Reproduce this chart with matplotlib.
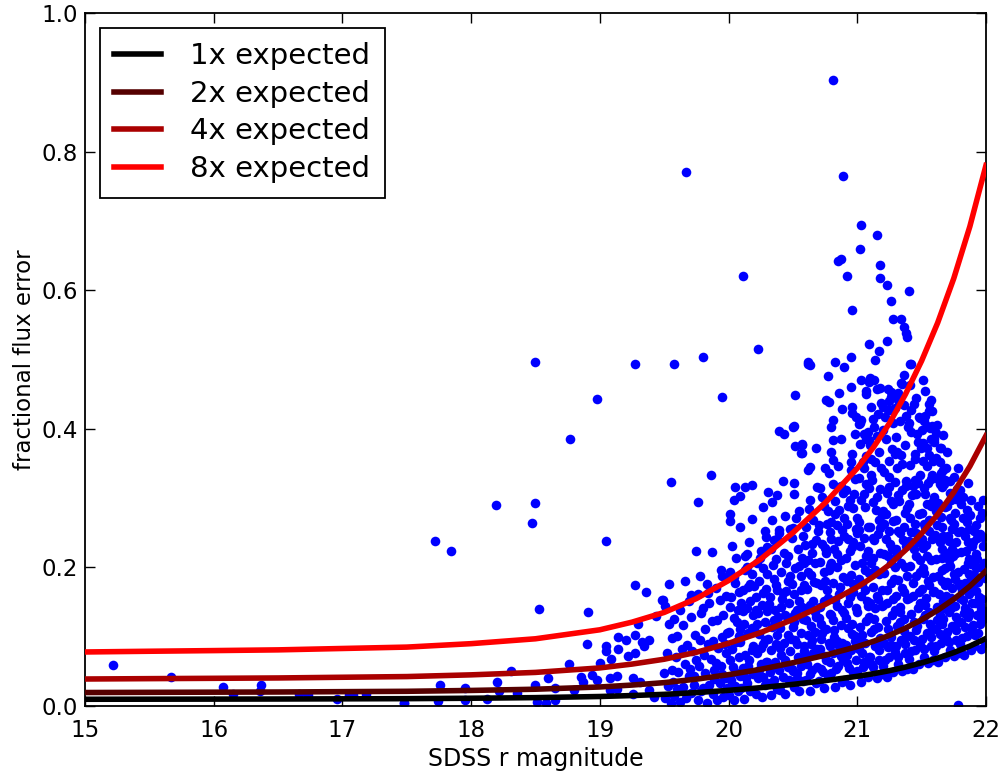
import matplotlib
matplotlib.use("Agg")
import matplotlib.pyplot as plt
import numpy as np

# expected fractional error curve (1x)
curve_mag = [15.0, 15.5, 16.0, 16.5, 17.0, 17.5, 18.0, 18.5, 19.0, 19.25, 19.5, 19.75,
             20.0, 20.25, 20.5, 20.75, 21.0, 21.125, 21.25, 21.375, 21.5, 21.625,
             21.75, 21.875, 22.0]
expected_1x = [.00975, .00988, .0100, .01013, .01038, .01063, .01125, .01213, .01375,
               .01513, .01688, .01938, .02263, .0265, .03125, .03663, .04288, .04663,
               .051, .05625, .06225, .06913, .07713, .0865, .0975]
multipliers = [1, 2, 4, 8]
line_colors = ['#000000', '#550000', '#aa0000', '#ff0000']

# bright / isolated stars (mag, frac. error)
bright_pts = [
    (15.22, .059), (15.67, .042), (16.07, .027), (16.15, .018), (16.37, .031), (16.36, .021),
    (16.66, .018), (16.73, .016), (16.96, .010), (17.05, .016), (17.08, .016), (17.18, .018),
    (17.48, .004), (17.48, .005), (17.74, .007), (17.95, .009), (18.12, .010), (18.22, .021),
    (18.36, .019), (18.51, .006), (18.58, .004), (18.65, .009), (18.80, .023), (19.08, .023),
    (19.13, .024), (19.26, .018), (19.38, .023), (19.42, .013), (17.76, .031), (18.20, .035),
    (17.95, .026), (18.50, .030), (18.60, .041), (18.65, .026), (18.85, .042), (18.87, .034),
    (18.94, .045), (18.98, .037), (19.08, .040), (19.13, .043), (19.26, .040), (19.31, .035),
    (18.31, .051), (18.76, .060), (19.00, .062), (18.90, .090), (19.05, .087), (19.05, .080),
    (19.14, .099), (19.20, .095), (19.14, .083), (19.09, .068), (19.27, .103), (19.33, .093),
    (19.38, .095), (19.34, .086), (19.27, .076), (19.22, .072), (19.30, .118), (19.44, .130),
    (19.48, .153), (18.53, .140), (18.91, .135), (19.27, .174), (19.36, .164),
]

outlier_pts = [
    (18.50, .497), (19.27, .493), (18.98, .443), (18.77, .386), (18.19, .290), (18.50, .293),
    (18.47, .264), (17.72, .238), (17.84, .224), (19.05, .238), (19.67, .771), (20.11, .620),
    (20.23, .515), (19.58, .494), (19.80, .504), (19.95, .446), (20.52, .449), (20.62, .494),
    (20.50, .403), (20.39, .397), (20.43, .392), (20.52, .375), (20.57, .378), (20.51, .404),
    (20.56, .365), (20.62, .341), (19.55, .323), (19.86, .334), (19.76, .295), (20.05, .316),
    (20.13, .316), (20.18, .319), (20.04, .297), (20.09, .303), (20.01, .277), (20.01, .267),
    (20.09, .259), (20.18, .270), (20.27, .287), (20.31, .309), (20.34, .295), (20.38, .304),
    (20.42, .324), (20.51, .322), (20.51, .306), (20.29, .244), (20.30, .230), (20.35, .240),
    (20.39, .254), (19.75, .223), (19.87, .222), (20.14, .219), (19.78, .187), (19.54, .176),
    (19.94, .197), (19.95, .187), (20.01, .187), (20.13, .196), (19.71, .160), (19.49, .153),
    (19.84, .163), (21.78, .001),
]

upper_pts = [
    (20.81, .903), (20.89, .765), (21.03, .694), (21.15, .679), (21.02, .659), (20.85, .642),
    (20.87, .645), (21.18, .637), (20.92, .620), (21.18, .618), (21.23, .607), (21.40, .599),
    (21.26, .585), (20.96, .572), (21.28, .559), (21.34, .558), (21.36, .547), (21.38, .538),
    (21.39, .533), (21.09, .523), (21.23, .527), (21.17, .512), (21.14, .499), (20.95, .503),
    (20.62, .497), (20.63, .492), (20.83, .497), (20.90, .489), (21.41, .494), (20.77, .476),
    (21.03, .471), (21.10, .473), (21.13, .470), (21.09, .467), (20.95, .461), (21.18, .459),
    (21.24, .457), (21.26, .453), (21.07, .455), (21.07, .450), (21.15, .457), (20.86, .452),
    (21.36, .478), (21.35, .465), (20.76, .441), (20.78, .439), (21.25, .440), (21.11, .432),
    (21.20, .431), (21.29, .430), (20.88, .428), (20.96, .432), (20.96, .423), (20.99, .417),
    (21.03, .413), (21.01, .407), (20.81, .413), (20.80, .403), (20.98, .393), (21.05, .393),
    (21.07, .385), (20.87, .386), (20.81, .384), (20.57, .377), (20.57, .365), (20.68, .372),
    (20.80, .366), (20.81, .355), (20.96, .364), (20.63, .345), (20.75, .343),
    (21.51, .470), (21.53, .454), (21.57, .442), (21.56, .426), (21.49, .415), (21.54, .404),
    (21.58, .404), (21.64, .373), (21.51, .379), (21.56, .362), (21.59, .353), (21.67, .341),
    (21.68, .326), (21.64, .321), (21.72, .307), (21.42, .494), (21.41, .463), (21.34, .466),
]

# main cloud of faint stars, roughly column by column
cloud_195_205 = [
    (19.55, .004), (19.51, .011), (19.58, .014), (19.53, .029), (19.57, .034), (19.50, .047),
    (19.56, .052), (19.59, .071), (19.52, .076), (19.56, .098), (19.54, .119), (19.58, .126),
    (19.51, .145),
    (19.62, .006), (19.67, .012), (19.60, .024), (19.65, .027), (19.69, .043), (19.61, .049),
    (19.66, .061), (19.64, .083), (19.68, .088), (19.60, .101), (19.65, .117), (19.62, .139),
    (19.69, .151), (19.66, .181),
    (19.76, .008), (19.71, .019), (19.79, .021), (19.73, .031), (19.70, .054), (19.77, .058),
    (19.75, .066), (19.72, .079), (19.78, .096), (19.74, .103), (19.71, .129), (19.79, .134),
    (19.76, .161), (19.73, .043),
    (19.83, .005), (19.88, .017), (19.80, .026), (19.85, .031), (19.82, .047), (19.89, .052),
    (19.86, .068), (19.81, .073), (19.84, .089), (19.88, .094), (19.82, .111), (19.87, .122),
    (19.80, .141), (19.85, .149), (19.83, .176), (19.89, .039),
    (19.91, .009), (19.96, .013), (19.99, .026), (19.93, .033), (19.97, .041), (19.90, .062),
    (19.94, .058), (19.98, .077), (19.92, .084), (19.95, .099), (19.99, .106), (19.91, .124),
    (19.96, .131), (19.93, .153), (19.98, .159), (19.90, .171), (19.95, .046), (19.97, .089),
    (20.04, .008), (20.00, .016), (20.07, .021), (20.02, .038), (20.09, .043), (20.05, .049),
    (20.01, .066), (20.08, .071), (20.03, .082), (20.06, .093), (20.00, .107), (20.09, .111),
    (20.04, .127), (20.07, .139), (20.02, .158), (20.08, .164), (20.05, .178), (20.01, .194),
    (20.06, .213), (20.03, .231), (20.09, .092), (20.05, .029),
    (20.12, .010), (20.17, .022), (20.10, .026), (20.14, .033), (20.19, .046), (20.11, .055),
    (20.16, .067), (20.13, .074), (20.18, .081), (20.10, .099), (20.15, .106), (20.12, .118),
    (20.19, .131), (20.14, .142), (20.17, .151), (20.11, .168), (20.15, .172), (20.18, .191),
    (20.13, .217), (20.16, .236), (20.15, .058), (20.19, .087), (20.10, .149),
    (20.26, .013), (20.21, .018), (20.28, .031), (20.23, .041), (20.20, .047), (20.25, .061),
    (20.29, .064), (20.22, .076), (20.27, .089), (20.24, .104), (20.20, .109), (20.28, .121),
    (20.23, .134), (20.26, .146), (20.21, .157), (20.29, .169), (20.24, .181), (20.27, .199),
    (20.22, .206), (20.25, .224), (20.28, .252), (20.27, .042), (20.25, .084), (20.22, .119),
    (20.20, .173),
    (20.33, .016), (20.38, .024), (20.31, .033), (20.35, .038), (20.39, .052), (20.30, .063),
    (20.36, .064), (20.33, .081), (20.37, .089), (20.31, .097), (20.34, .114), (20.39, .116),
    (20.30, .137), (20.36, .139), (20.32, .158), (20.38, .168), (20.35, .183), (20.30, .191),
    (20.37, .212), (20.33, .227), (20.39, .249), (20.34, .268), (20.32, .049), (20.38, .103),
    (20.35, .124),
    (20.44, .018), (20.40, .023), (20.47, .037), (20.42, .042), (20.49, .054), (20.45, .061),
    (20.41, .073), (20.48, .079), (20.43, .091), (20.46, .102), (20.40, .112), (20.49, .129),
    (20.44, .131), (20.47, .148), (20.42, .163), (20.45, .166), (20.48, .188), (20.41, .193),
    (20.46, .216), (20.43, .221), (20.49, .243), (20.44, .274), (20.40, .084), (20.41, .143),
    (20.49, .176), (20.46, .057),
]

cloud_205_21 = [
    (20.55, .021), (20.51, .027), (20.58, .036), (20.53, .048), (20.50, .051), (20.57, .068),
    (20.54, .071), (20.59, .086), (20.52, .095), (20.56, .106), (20.50, .114), (20.58, .126),
    (20.53, .138), (20.55, .152), (20.51, .161), (20.59, .174), (20.56, .187), (20.52, .199),
    (20.57, .214), (20.54, .227), (20.58, .246), (20.50, .257), (20.55, .281), (20.53, .089),
    (20.57, .143), (20.59, .206), (20.56, .058), (20.51, .121),
    (20.63, .022), (20.68, .033), (20.60, .038), (20.65, .052), (20.69, .056), (20.61, .071),
    (20.66, .076), (20.64, .089), (20.62, .103), (20.67, .107), (20.60, .124), (20.68, .129),
    (20.63, .146), (20.66, .151), (20.61, .169), (20.69, .177), (20.64, .189), (20.67, .207),
    (20.62, .211), (20.65, .234), (20.68, .239), (20.60, .259), (20.66, .268), (20.63, .298),
    (20.69, .316), (20.61, .061), (20.65, .096), (20.67, .136), (20.62, .194), (20.64, .116),
    (20.74, .026), (20.70, .036), (20.77, .044), (20.72, .054), (20.79, .063), (20.75, .072),
    (20.71, .083), (20.78, .091), (20.73, .106), (20.76, .111), (20.70, .127), (20.79, .133),
    (20.74, .151), (20.77, .156), (20.72, .174), (20.75, .181), (20.78, .197), (20.71, .208),
    (20.76, .221), (20.73, .234), (20.79, .251), (20.70, .261), (20.77, .281), (20.74, .289),
    (20.71, .314), (20.78, .336), (20.76, .066), (20.72, .097), (20.71, .143), (20.79, .202),
    (20.75, .228),
    (20.83, .028), (20.88, .035), (20.80, .047), (20.85, .058), (20.89, .066), (20.81, .076),
    (20.86, .087), (20.84, .094), (20.82, .109), (20.87, .117), (20.80, .131), (20.88, .138),
    (20.83, .153), (20.86, .161), (20.81, .178), (20.89, .186), (20.84, .201), (20.87, .211),
    (20.82, .226), (20.85, .238), (20.88, .254), (20.80, .266), (20.86, .283), (20.83, .296),
    (20.89, .308), (20.81, .321), (20.85, .346), (20.87, .072), (20.82, .099), (20.84, .144),
    (20.80, .207), (20.84, .261),
    (20.94, .031), (20.90, .038), (20.97, .049), (20.92, .062), (20.99, .067), (20.95, .081),
    (20.91, .088), (20.98, .101), (20.93, .112), (20.96, .119), (20.90, .134), (20.99, .142),
    (20.94, .157), (20.97, .164), (20.92, .181), (20.95, .189), (20.98, .204), (20.91, .214),
    (20.96, .229), (20.93, .241), (20.99, .256), (20.90, .271), (20.97, .286), (20.94, .297),
    (20.91, .312), (20.98, .327), (20.95, .341), (20.92, .073), (20.96, .104), (20.93, .148),
    (20.97, .237), (20.92, .263),
]

cloud_21_215 = [
    (21.03, .034), (21.08, .042), (21.00, .051), (21.05, .063), (21.09, .071), (21.01, .082),
    (21.06, .091), (21.04, .103), (21.02, .114), (21.07, .122), (21.00, .136), (21.08, .144),
    (21.03, .159), (21.06, .168), (21.01, .183), (21.09, .192), (21.04, .206), (21.07, .216),
    (21.02, .231), (21.05, .243), (21.08, .258), (21.00, .272), (21.06, .287), (21.03, .298),
    (21.09, .314), (21.01, .329), (21.05, .343), (21.07, .361), (21.02, .378), (21.08, .396),
    (21.04, .077), (21.09, .128), (21.06, .197), (21.01, .254), (21.05, .306),
    (21.15, .041), (21.19, .046), (21.12, .057), (21.17, .067), (21.10, .071), (21.14, .086),
    (21.18, .098), (21.11, .107), (21.16, .114), (21.13, .126), (21.19, .145), (21.10, .149),
    (21.15, .159), (21.12, .172), (21.17, .191), (21.14, .196), (21.11, .207), (21.18, .221),
    (21.13, .239), (21.16, .248), (21.10, .258), (21.19, .276), (21.12, .295), (21.15, .302),
    (21.18, .313), (21.11, .333), (21.14, .352), (21.17, .366), (21.10, .377), (21.13, .402),
    (21.16, .421), (21.17, .081), (21.13, .111), (21.16, .154), (21.12, .242), (21.17, .269),
    (21.11, .357),
    (21.23, .042), (21.28, .049), (21.20, .058), (21.25, .071), (21.29, .078), (21.21, .091),
    (21.26, .099), (21.24, .111), (21.22, .123), (21.27, .131), (21.20, .146), (21.28, .154),
    (21.23, .168), (21.26, .177), (21.21, .192), (21.29, .201), (21.24, .216), (21.27, .226),
    (21.22, .241), (21.25, .253), (21.28, .267), (21.20, .281), (21.26, .296), (21.23, .307),
    (21.29, .323), (21.21, .338), (21.25, .353), (21.27, .371), (21.22, .386), (21.28, .408),
    (21.24, .427), (21.26, .446), (21.24, .085), (21.29, .139), (21.26, .207), (21.21, .262),
    (21.25, .316), (21.20, .398),
    (21.35, .050), (21.39, .054), (21.32, .060), (21.37, .076), (21.30, .087), (21.34, .096),
    (21.38, .101), (21.31, .116), (21.36, .125), (21.33, .136), (21.39, .155), (21.30, .159),
    (21.35, .170), (21.32, .182), (21.37, .201), (21.34, .206), (21.31, .218), (21.38, .231),
    (21.33, .249), (21.36, .258), (21.30, .269), (21.39, .286), (21.32, .304), (21.35, .312),
    (21.38, .324), (21.31, .343), (21.34, .362), (21.37, .376), (21.30, .388), (21.33, .412),
    (21.36, .434), (21.32, .452), (21.37, .089), (21.33, .121), (21.36, .164), (21.32, .252),
    (21.37, .279), (21.31, .367), (21.38, .418),
    (21.43, .053), (21.48, .061), (21.40, .068), (21.45, .081), (21.49, .088), (21.41, .101),
    (21.46, .109), (21.44, .121), (21.42, .133), (21.47, .141), (21.40, .156), (21.48, .164),
    (21.43, .178), (21.46, .187), (21.41, .202), (21.49, .211), (21.44, .226), (21.47, .236),
    (21.42, .251), (21.45, .263), (21.48, .277), (21.40, .291), (21.46, .306), (21.43, .317),
    (21.49, .333), (21.41, .348), (21.45, .363), (21.47, .381), (21.42, .396), (21.48, .417),
    (21.44, .436), (21.44, .095), (21.49, .149), (21.46, .217), (21.41, .272), (21.45, .326),
    (21.40, .408), (21.46, .445),
]

cloud_215_22 = [
    (21.55, .062), (21.59, .066), (21.52, .071), (21.57, .086), (21.50, .097), (21.54, .106),
    (21.58, .111), (21.51, .126), (21.56, .135), (21.53, .146), (21.59, .165), (21.50, .169),
    (21.55, .180), (21.52, .192), (21.57, .211), (21.54, .216), (21.51, .228), (21.58, .241),
    (21.53, .259), (21.56, .268), (21.50, .279), (21.59, .296), (21.52, .314), (21.55, .322),
    (21.58, .334), (21.51, .353), (21.54, .372), (21.57, .386), (21.50, .398), (21.53, .418),
    (21.56, .436), (21.57, .099), (21.53, .131), (21.56, .174), (21.52, .262), (21.57, .289),
    (21.51, .376), (21.58, .426), (21.54, .291), (21.51, .199),
    (21.63, .064), (21.68, .071), (21.60, .079), (21.65, .091), (21.69, .098), (21.61, .111),
    (21.66, .119), (21.64, .131), (21.62, .143), (21.67, .151), (21.60, .166), (21.68, .174),
    (21.63, .188), (21.66, .197), (21.61, .212), (21.69, .221), (21.64, .236), (21.67, .246),
    (21.62, .261), (21.65, .273), (21.68, .287), (21.60, .301), (21.66, .316), (21.63, .327),
    (21.69, .343), (21.61, .358), (21.65, .373), (21.67, .391), (21.62, .406), (21.64, .104),
    (21.69, .159), (21.66, .227), (21.61, .282), (21.65, .336), (21.60, .386), (21.66, .181),
    (21.62, .124),
    (21.75, .072), (21.79, .076), (21.72, .081), (21.77, .096), (21.70, .107), (21.74, .116),
    (21.78, .121), (21.71, .136), (21.76, .145), (21.73, .156), (21.79, .175), (21.70, .179),
    (21.75, .190), (21.72, .202), (21.77, .221), (21.74, .226), (21.71, .238), (21.78, .251),
    (21.73, .269), (21.76, .278), (21.70, .289), (21.79, .306), (21.72, .324), (21.75, .331),
    (21.78, .343), (21.77, .109), (21.73, .141), (21.76, .184), (21.72, .272), (21.77, .299),
    (21.71, .211), (21.74, .256),
    (21.83, .074), (21.88, .081), (21.80, .089), (21.85, .101), (21.89, .108), (21.81, .121),
    (21.86, .129), (21.84, .141), (21.82, .153), (21.87, .161), (21.80, .176), (21.88, .184),
    (21.83, .198), (21.86, .207), (21.81, .222), (21.89, .231), (21.84, .246), (21.87, .256),
    (21.82, .271), (21.85, .283), (21.88, .297), (21.80, .311), (21.86, .322), (21.84, .114),
    (21.89, .169), (21.86, .237), (21.81, .292), (21.83, .134), (21.87, .212),
    (21.96, .082), (21.91, .086), (21.99, .091), (21.94, .106), (21.90, .117), (21.98, .126),
    (21.93, .131), (21.95, .146), (21.97, .155), (21.92, .166), (21.99, .185), (21.91, .189),
    (21.96, .200), (21.93, .212), (21.98, .231), (21.90, .236), (21.95, .248), (21.92, .261),
    (21.97, .279), (21.94, .288), (21.95, .119), (21.90, .174), (21.93, .242), (21.98, .297),
    (21.96, .139), (21.92, .219),
]

# extra stars filling the gaps of the densest part of the cloud
cloud_fill = [
    (20.035, .057), (20.085, .101), (20.015, .143), (20.065, .121), (20.045, .186),
    (20.135, .041), (20.185, .113), (20.115, .137), (20.165, .176), (20.145, .201),
    (20.235, .052), (20.285, .096), (20.215, .138), (20.265, .163), (20.245, .214),
    (20.335, .058), (20.385, .129), (20.315, .147), (20.365, .174), (20.345, .203),
    (20.375, .241), (20.435, .066), (20.485, .097), (20.415, .154), (20.465, .181),
    (20.445, .207), (20.475, .256),
    (20.535, .041), (20.585, .079), (20.515, .134), (20.565, .168), (20.545, .202),
    (20.595, .233), (20.525, .271), (20.635, .046), (20.685, .082), (20.615, .141),
    (20.665, .179), (20.645, .221), (20.695, .252), (20.625, .284), (20.735, .049),
    (20.785, .086), (20.715, .118), (20.765, .167), (20.745, .193), (20.795, .241),
    (20.725, .301), (20.765, .262), (20.835, .053), (20.885, .091), (20.815, .124),
    (20.865, .172), (20.845, .219), (20.895, .246), (20.825, .277), (20.875, .318),
    (20.935, .055), (20.985, .094), (20.915, .127), (20.965, .176), (20.945, .224),
    (20.995, .249), (20.925, .289), (20.975, .306), (20.955, .352),
    (21.045, .057), (21.025, .097), (21.075, .151), (21.035, .176), (21.085, .223),
    (21.015, .266), (21.065, .321), (21.045, .352), (21.095, .384), (21.025, .409),
    (21.105, .061), (21.165, .093), (21.135, .142), (21.195, .167), (21.125, .214),
    (21.175, .257), (21.145, .283), (21.115, .326), (21.185, .344), (21.155, .389),
    (21.125, .414), (21.185, .437), (21.215, .066), (21.265, .088), (21.235, .148),
    (21.285, .183), (21.205, .219), (21.255, .234), (21.225, .277), (21.275, .292),
    (21.245, .331), (21.295, .363), (21.215, .417), (21.265, .427), (21.315, .071),
    (21.365, .108), (21.335, .143), (21.385, .188), (21.305, .227), (21.355, .239),
    (21.325, .296), (21.375, .318), (21.345, .349), (21.395, .402), (21.315, .441),
    (21.415, .079), (21.465, .115), (21.435, .159), (21.485, .193), (21.405, .238),
    (21.455, .249), (21.425, .304), (21.475, .322), (21.445, .356), (21.495, .372),
    (21.415, .427), (21.465, .392),
    (21.515, .083), (21.565, .118), (21.535, .156), (21.585, .186), (21.505, .241),
    (21.555, .253), (21.525, .306), (21.575, .327), (21.545, .347), (21.595, .381),
    (21.515, .412), (21.565, .401), (21.535, .233), (21.615, .087), (21.665, .126),
    (21.635, .162), (21.685, .199), (21.605, .247), (21.655, .259), (21.625, .293),
    (21.675, .321), (21.645, .352), (21.695, .366), (21.615, .394), (21.655, .213),
    (21.685, .141), (21.715, .093), (21.765, .129), (21.735, .171), (21.785, .194),
    (21.705, .246), (21.755, .263), (21.725, .297), (21.775, .313), (21.745, .217),
    (21.795, .156), (21.715, .152), (21.765, .236), (21.815, .098), (21.865, .136),
    (21.835, .178), (21.885, .205), (21.805, .252), (21.855, .266), (21.825, .301),
    (21.875, .276), (21.845, .224), (21.895, .149), (21.815, .167), (21.865, .191),
    (21.915, .103), (21.965, .122), (21.935, .179), (21.985, .206), (21.905, .252),
    (21.955, .271), (21.925, .199), (21.975, .244), (21.945, .158), (21.995, .137),
    (21.915, .148),
]

pts = np.array(bright_pts + outlier_pts + upper_pts + cloud_195_205 + cloud_205_21
               + cloud_21_215 + cloud_215_22 + cloud_fill)

fig = plt.figure(figsize=(10.03, 7.78), dpi=100)
ax = fig.add_axes([0.0847, 0.0925, 0.8983, 0.8908])

ax.scatter(pts[:, 0], pts[:, 1], s=48, c='#0000ff', linewidths=0, zorder=2)

base = np.array(expected_1x)
for k, col in zip(multipliers, line_colors):
    ax.plot(curve_mag, k * base, '-', color=col, lw=4, label=f'{k}x expected', zorder=3)

ax.set_xlim(15, 22)
ax.set_ylim(0, 1)
ax.set_xticks(range(15, 23))
ax.set_yticks([0.0, 0.2, 0.4, 0.6, 0.8, 1.0])
ax.set_yticklabels(['0.0', '0.2', '0.4', '0.6', '0.8', '1.0'])
ax.tick_params(direction='in', top=True, right=True, length=7, width=1, labelsize=16.5)
ax.tick_params(axis='x', pad=9)
ax.tick_params(axis='y', pad=5)
for sp in ax.spines.values():
    sp.set_linewidth(1.3)

ax.set_xlabel('SDSS r magnitude', fontsize=17)
ax.set_ylabel('fractional flux error', fontsize=16.5)

leg = ax.legend(loc='upper left', fontsize=21, fancybox=False, framealpha=1,
                edgecolor='black', handlelength=1.6, handletextpad=1.0,
                labelspacing=0.33, borderpad=0.5, borderaxespad=0.5)
leg.get_frame().set_linewidth(1.3)

fig.savefig('out.png', dpi=100)
